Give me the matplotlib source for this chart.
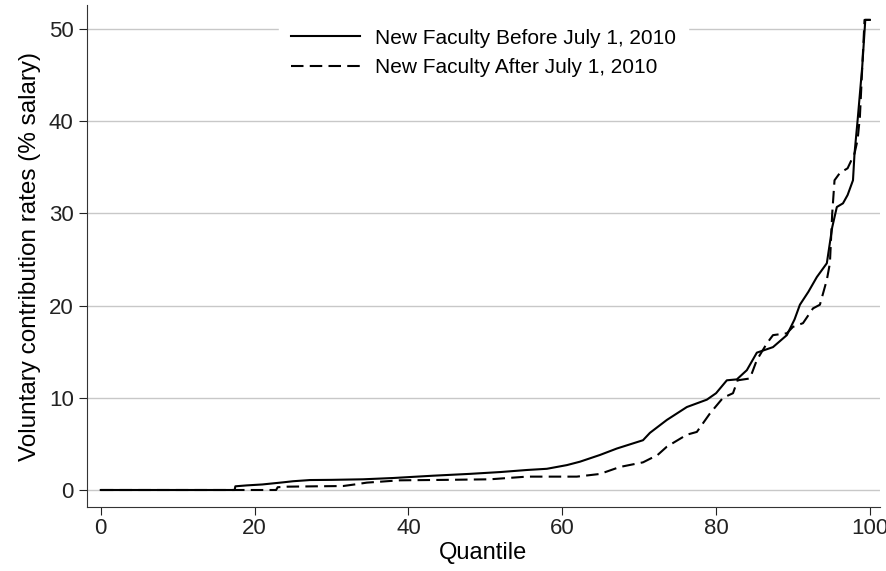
import matplotlib.pyplot as plt

plt.rcParams['font.family'] = ['Liberation Sans', 'DejaVu Sans']

# quantile curve, new faculty before July 1, 2010
q_before = [0, 17.4, 17.5, 19, 21, 23.7, 25, 27.2, 30, 34.1, 38, 43.2, 48, 52, 55.4,
            58, 60.6, 62.3, 64.9, 67.1, 70.5, 71.4, 73.6, 76.2, 78.8, 80, 81.4, 82.7,
            84, 85.3, 87.4, 89.2, 90.2, 90.9, 92, 93.1, 94.4, 95.1, 95.7, 96.5, 97.1,
            97.8, 98.0, 98.4, 99.0, 99.4, 100]
v_before = [0, 0, 0.4, 0.5, 0.6, 0.83, 0.95, 1.08, 1.1, 1.16, 1.3, 1.55, 1.75, 1.95, 2.17,
            2.3, 2.7, 3.07, 3.8, 4.5, 5.4, 6.2, 7.6, 9.0, 9.8, 10.5, 11.9, 12.0,
            13.0, 14.9, 15.5, 16.8, 18.5, 20.1, 21.5, 23.1, 24.6, 28.5, 30.7, 31.1, 32.0,
            33.6, 36.5, 40.1, 45.9, 51, 51]

# quantile curve, new faculty after July 1, 2010
q_after = [0, 22.8, 23.0, 24.2, 28, 31.5, 33, 34.6, 38.9, 45, 50.6, 55.4, 58, 61.9,
           64.9, 67.5, 70.5, 72.4, 73.6, 76.2, 77.5, 79.2, 80.9, 82.2, 82.8, 84.4,
           85.3, 86.6, 87.4, 89.2, 90.0, 91.3, 92.6, 93.5, 94.4, 94.8, 95.1, 95.4,
           96.1, 97.1, 98.0, 98.4, 98.7, 99.3, 100]
v_after = [0, 0, 0.3, 0.36, 0.4, 0.43, 0.6, 0.8, 1.05, 1.1, 1.16, 1.45, 1.45, 1.45,
           1.74, 2.5, 3.0, 3.8, 4.7, 6.0, 6.3, 8.3, 10.0, 10.5, 11.9, 12.1,
           14.1, 15.9, 16.8, 17.0, 17.7, 18.1, 19.7, 20.1, 22.8, 24.6, 30.0, 33.6,
           34.4, 34.9, 36.5, 38.0, 40.5, 51, 51]

x_ticks = [0, 20, 40, 60, 80, 100]
y_ticks = [0, 10, 20, 30, 40, 50]

fig = plt.figure(figsize=(8.87, 5.71), dpi=100)
ax = fig.add_axes([0.098, 0.112, 0.894, 0.879])

ax.plot(q_before, v_before, color='black', lw=1.5, label='New Faculty Before July 1, 2010')
ax.plot(q_after, v_after, color='black', lw=1.5, dashes=(6, 3),
        label='New Faculty After July 1, 2010')

ax.set_xlim(-1.8, 101.3)
ax.set_ylim(-1.85, 52.6)
ax.set_xticks(x_ticks)
ax.set_yticks(y_ticks)
ax.yaxis.grid(True, color='#c8c8c8', lw=1)
ax.set_axisbelow(True)
for s in ['top', 'right']:
    ax.spines[s].set_visible(False)
ax.spines['left'].set_color('#333333')
ax.spines['bottom'].set_color('#333333')
ax.tick_params(direction='out', length=6, labelsize=16, colors='#222222')
ax.tick_params(axis='x', pad=2)
ax.set_xlabel('Quantile', fontsize=17, labelpad=2)
ax.set_ylabel('Voluntary contribution rates (% salary)', fontsize=17.5, labelpad=6)

leg = ax.legend(loc='upper center', bbox_to_anchor=(0.5, 1.005), frameon=True,
                fontsize=15, handlelength=3.3, handletextpad=0.7, borderpad=0.6,
                labelspacing=0.5, borderaxespad=0.65)
leg.get_frame().set_edgecolor('white')
leg.get_frame().set_facecolor('white')
leg.get_frame().set_alpha(1)
leg.get_frame().set_boxstyle('square', pad=0)

fig.savefig('out.png', dpi=100)
